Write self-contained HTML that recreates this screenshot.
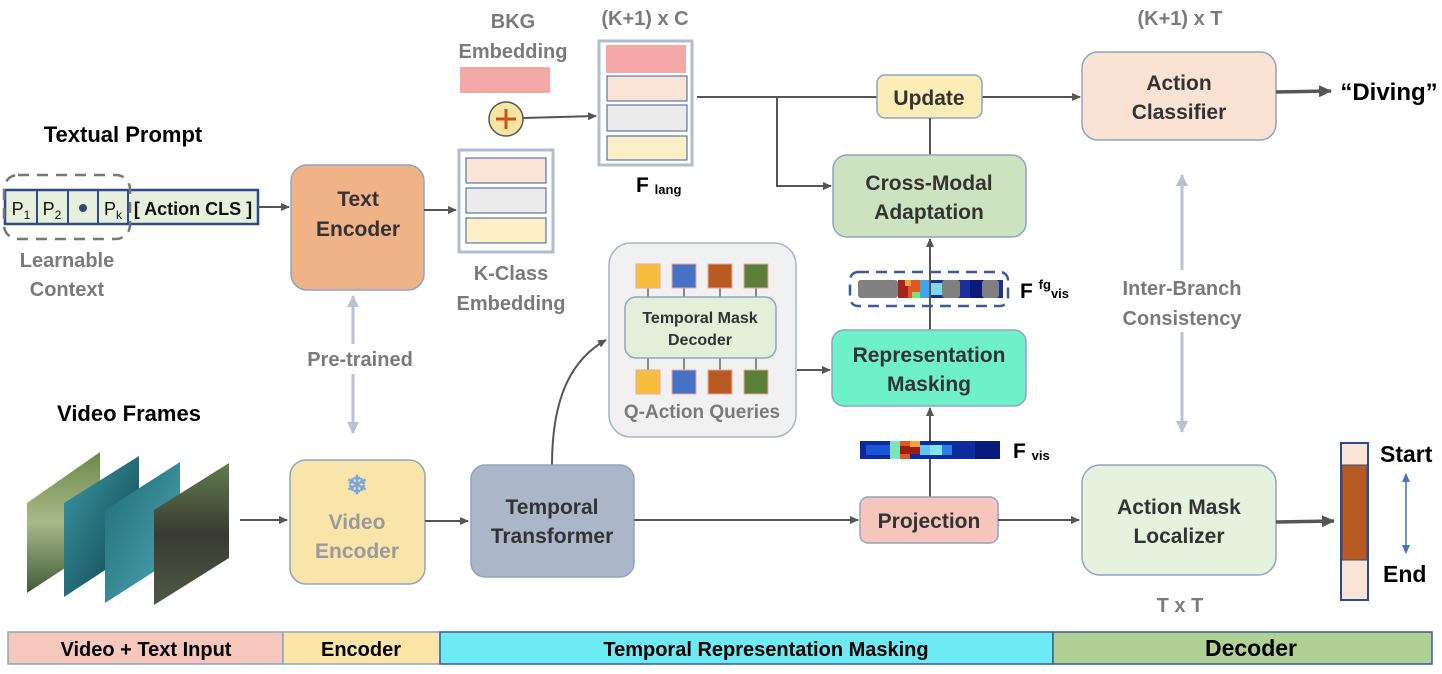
<!DOCTYPE html>
<html><head><meta charset="utf-8"><style>
html,body{margin:0;padding:0;background:#fff;}
svg{display:block;font-family:"Liberation Sans",sans-serif;font-weight:bold;}
</style></head><body>
<svg width="1442" height="674" viewBox="0 0 1442 674" xmlns="http://www.w3.org/2000/svg">
<defs>
<marker id="ah" markerWidth="10" markerHeight="10" refX="8" refY="5" orient="auto" markerUnits="userSpaceOnUse"><path d="M0,1 L9,5 L0,9 z" fill="#555"/></marker>
<marker id="ahb" markerWidth="14" markerHeight="14" refX="12" refY="7" orient="auto" markerUnits="userSpaceOnUse"><path d="M0,1 L13,7 L0,13 z" fill="#555"/></marker>
<marker id="ahg" markerWidth="14" markerHeight="14" refX="11" refY="7" orient="auto-start-reverse" markerUnits="userSpaceOnUse"><path d="M0,1 L12,7 L0,13 z" fill="#b9c2d3"/></marker>
<marker id="ahbl" markerWidth="10" markerHeight="10" refX="8" refY="5" orient="auto-start-reverse" markerUnits="userSpaceOnUse"><path d="M0,1 L9,5 L0,9 z" fill="#4472c4"/></marker>
<linearGradient id="g1" x1="0" y1="0" x2="0" y2="1"><stop offset="0" stop-color="#6b8a4a"/><stop offset="0.5" stop-color="#a9b98a"/><stop offset="1" stop-color="#3f5a3a"/></linearGradient>
<linearGradient id="g2" x1="0" y1="0" x2="1" y2="1"><stop offset="0" stop-color="#3a9aa6"/><stop offset="1" stop-color="#0f3e48"/></linearGradient>
<linearGradient id="g3" x1="0" y1="0" x2="1" y2="1"><stop offset="0" stop-color="#1f6b78"/><stop offset="1" stop-color="#4fa7b3"/></linearGradient>
<linearGradient id="g4" x1="0" y1="0" x2="0" y2="1"><stop offset="0" stop-color="#5f7d4c"/><stop offset="0.5" stop-color="#3a3a33"/><stop offset="1" stop-color="#4d5a44"/></linearGradient>
</defs>

<text x="123" y="142" font-size="22" text-anchor="middle" fill="#000">Textual Prompt</text>
<rect x="5" y="190" width="253" height="34" fill="#e6f0dc" stroke="#2f4a8a" stroke-width="2.5"/>
<g stroke="#2f4a8a" stroke-width="2" fill="none"><line x1="37" y1="190" x2="37" y2="224"/><line x1="68" y1="190" x2="68" y2="224"/><line x1="98" y1="190" x2="98" y2="224"/><line x1="128" y1="190" x2="128" y2="224"/></g>
<text x="21" y="215" font-size="18" font-weight="normal" text-anchor="middle" fill="#111">P<tspan font-size="12" dy="4">1</tspan></text>
<text x="52" y="215" font-size="18" font-weight="normal" text-anchor="middle" fill="#111">P<tspan font-size="12" dy="4">2</tspan></text>
<circle cx="83" cy="208" r="4" fill="#2f4a6a"/>
<text x="113" y="215" font-size="18" font-weight="normal" text-anchor="middle" fill="#111">P<tspan font-size="12" dy="4">k</tspan></text>
<text x="193" y="215" font-size="18" text-anchor="middle" fill="#111">[ Action CLS ]</text>
<rect x="4" y="175" width="126" height="64" rx="14" fill="none" stroke="#777" stroke-width="2.5" stroke-dasharray="11,8"/>
<text x="67" y="267" font-size="20" text-anchor="middle" fill="#7a7a7a">Learnable</text>
<text x="67" y="296" font-size="20" text-anchor="middle" fill="#7a7a7a">Context</text>
<line x1="258" y1="207" x2="289" y2="207" stroke="#555" stroke-width="2" marker-end="url(#ah)"/>

<rect x="291" y="165" width="133" height="125" rx="16" fill="#f0b387" stroke="#8fa3c4" stroke-width="1.5"/>
<text x="358" y="206" font-size="21" text-anchor="middle" fill="#333">Text</text>
<text x="358" y="236" font-size="21" text-anchor="middle" fill="#333">Encoder</text>
<line x1="424" y1="210" x2="456" y2="210" stroke="#555" stroke-width="2" marker-end="url(#ah)"/>

<rect x="459" y="150" width="94" height="102" fill="#fff" stroke="#b0bccf" stroke-width="3"/>
<rect x="466" y="158" width="80" height="25" fill="#f9e4d6" stroke="#3b5b9a" stroke-width="1"/>
<rect x="466" y="188" width="80" height="25" fill="#ebebeb" stroke="#3b5b9a" stroke-width="1"/>
<rect x="466" y="218" width="80" height="25" fill="#fdf0c8" stroke="#3b5b9a" stroke-width="1"/>
<text x="511" y="280" font-size="20" text-anchor="middle" fill="#7a7a7a">K-Class</text>
<text x="511" y="310" font-size="20" text-anchor="middle" fill="#7a7a7a">Embedding</text>

<text x="513" y="28" font-size="20" text-anchor="middle" fill="#7a7a7a">BKG</text>
<text x="513" y="58" font-size="20" text-anchor="middle" fill="#7a7a7a">Embedding</text>
<rect x="460" y="67" width="90" height="26" fill="#f4a9a8"/>
<circle cx="506" cy="119" r="17" fill="#fbe3a3" stroke="#555" stroke-width="1.5"/>
<line x1="496" y1="119" x2="516" y2="119" stroke="#c0581e" stroke-width="3"/>
<line x1="506" y1="109" x2="506" y2="129" stroke="#c0581e" stroke-width="3"/>
<line x1="523" y1="118" x2="596" y2="116" stroke="#555" stroke-width="2" marker-end="url(#ah)"/>

<text x="645" y="25" font-size="20" text-anchor="middle" fill="#7a7a7a">(K+1) x C</text>
<rect x="599" y="41" width="93" height="124" fill="#fff" stroke="#b0bccf" stroke-width="3"/>
<rect x="606" y="45" width="80" height="28" fill="#f4a9a8"/>
<rect x="607" y="76" width="80" height="25" fill="#f9e4d6" stroke="#3b5b9a" stroke-width="1"/>
<rect x="607" y="105" width="80" height="26" fill="#ebebeb" stroke="#3b5b9a" stroke-width="1"/>
<rect x="607" y="136" width="80" height="24" fill="#fdf0c8" stroke="#3b5b9a" stroke-width="1"/>
<text x="636" y="192" font-size="21" fill="#000">F <tspan font-size="13" dy="2">lang</tspan></text>

<line x1="697" y1="97" x2="877" y2="97" stroke="#555" stroke-width="2"/>
<polyline points="777,97 777,186 831,186" fill="none" stroke="#555" stroke-width="2" marker-end="url(#ah)"/>
<line x1="982" y1="97" x2="1080" y2="97" stroke="#555" stroke-width="2" marker-end="url(#ah)"/>

<rect x="877" y="75" width="105" height="43" rx="8" fill="#fdecb5" stroke="#8fa3c4" stroke-width="1.5"/>
<text x="929" y="105" font-size="21" text-anchor="middle" fill="#333">Update</text>
<line x1="930" y1="155" x2="930" y2="118" stroke="#555" stroke-width="2"/>

<rect x="833" y="155" width="193" height="82" rx="14" fill="#cde3bf" stroke="#8fa3c4" stroke-width="1.5"/>
<text x="929" y="190" font-size="21" text-anchor="middle" fill="#333">Cross-Modal</text>
<text x="929" y="219" font-size="21" text-anchor="middle" fill="#333">Adaptation</text>

<line x1="930" y1="330" x2="930" y2="239" stroke="#555" stroke-width="2" marker-end="url(#ah)"/>
<rect x="850" y="272" width="158" height="34" rx="8" fill="#fff" stroke="#3b5b9a" stroke-width="2.5" stroke-dasharray="11,7"/>
<rect x="898" y="280" width="105" height="18" fill="#1a2f9a"/>
<rect x="898" y="280" width="10" height="18" fill="#a32418"/><rect x="908" y="280" width="12" height="18" fill="#e5561f"/>
<rect x="905" y="280" width="6" height="6" fill="#f3a23b"/><rect x="912" y="292" width="8" height="6" fill="#7ce07a"/>
<rect x="920" y="280" width="10" height="18" fill="#3aa7ef"/><rect x="930" y="283" width="14" height="12" fill="#7fd9e8"/>
<rect x="970" y="280" width="25" height="18" fill="#0a1a7a"/>
<rect x="858" y="280" width="40" height="18" rx="3" fill="#808080"/>
<rect x="942" y="280" width="18" height="18" rx="3" fill="#808080"/>
<rect x="982" y="280" width="17" height="18" rx="3" fill="#808080"/>
<line x1="930" y1="272" x2="930" y2="306" stroke="#555" stroke-width="2"/>
<text x="1020" y="298" font-size="21" fill="#000">F <tspan font-size="13" dy="-9">fg</tspan><tspan font-size="13" dy="9">vis</tspan></text>

<rect x="832" y="330" width="194" height="76" rx="12" fill="#6ef1c8" stroke="#8fa3c4" stroke-width="1.5"/>
<text x="929" y="362" font-size="21" text-anchor="middle" fill="#333">Representation</text>
<text x="929" y="391" font-size="21" text-anchor="middle" fill="#333">Masking</text>

<line x1="930" y1="497" x2="930" y2="408" stroke="#555" stroke-width="2" marker-end="url(#ah)"/>
<rect x="860" y="441" width="140" height="18" fill="#0d2a9e"/>
<rect x="866" y="445" width="30" height="10" fill="#1c56d6"/>
<rect x="890" y="441" width="10" height="18" fill="#7fe3b8"/>
<rect x="900" y="441" width="10" height="18" fill="#e5561f"/><rect x="900" y="446" width="20" height="8" fill="#9a1c12"/>
<rect x="910" y="441" width="10" height="6" fill="#f3a23b"/><rect x="920" y="445" width="10" height="10" fill="#5cc6ff"/>
<rect x="930" y="445" width="12" height="10" fill="#7fe8e8"/><rect x="942" y="445" width="10" height="10" fill="#2c7fe8"/>
<rect x="975" y="441" width="25" height="18" fill="#0a1a7a"/>
<text x="1013" y="458" font-size="21" fill="#000">F <tspan font-size="13" dy="2">vis</tspan></text>

<rect x="609" y="243" width="187" height="194" rx="22" fill="#f1f1f1" stroke="#a8b4c8" stroke-width="1.5"/>
<g stroke="#666" stroke-width="1.5"><line x1="648" y1="288" x2="648" y2="370"/><line x1="684" y1="288" x2="684" y2="370"/><line x1="720" y1="288" x2="720" y2="370"/><line x1="756" y1="288" x2="756" y2="370"/></g>
<rect x="625" y="297" width="151" height="61" rx="11" fill="#e3efd9" stroke="#8fa3c4" stroke-width="1.5"/>
<text x="700" y="323" font-size="16" text-anchor="middle" fill="#333">Temporal Mask</text>
<text x="700" y="345" font-size="16" text-anchor="middle" fill="#333">Decoder</text>
<g stroke="#f0a8a0" stroke-width="1">
<rect x="636" y="264" width="24" height="24" fill="#f7bd3e"/><rect x="672" y="264" width="24" height="24" fill="#4472c4"/><rect x="708" y="264" width="24" height="24" fill="#b85a22"/><rect x="744" y="264" width="24" height="24" fill="#5b7f38"/>
<rect x="636" y="370" width="24" height="24" fill="#f7bd3e"/><rect x="672" y="370" width="24" height="24" fill="#4472c4"/><rect x="708" y="370" width="24" height="24" fill="#b85a22"/><rect x="744" y="370" width="24" height="24" fill="#5b7f38"/>
</g>
<text x="702" y="418" font-size="19" text-anchor="middle" fill="#7a7a7a">Q-Action Queries</text>
<line x1="797" y1="370" x2="830" y2="370" stroke="#555" stroke-width="2" marker-end="url(#ah)"/>
<path d="M552,465 C552,400 570,360 606,340" fill="none" stroke="#555" stroke-width="2" marker-end="url(#ah)"/>

<text x="129" y="421" font-size="22" text-anchor="middle" fill="#000">Video Frames</text>
<polygon points="27,503 100,452 100,545 27,593" fill="url(#g1)"/>
<polygon points="64,503 139,456 139,548 64,597" fill="url(#g2)"/>
<polygon points="105,510 180,462 180,555 105,603" fill="url(#g3)"/>
<polygon points="154,510 229,463 229,558 154,605" fill="url(#g4)"/>
<line x1="240" y1="520" x2="287" y2="520" stroke="#555" stroke-width="2" marker-end="url(#ah)"/>

<rect x="290" y="460" width="135" height="124" rx="16" fill="#f9e4a9" stroke="#8fa3c4" stroke-width="1.5"/>
<text x="357" y="494" font-size="26" text-anchor="middle" fill="#7aa7d8">❄</text>
<text x="357" y="529" font-size="21" text-anchor="middle" fill="#9a9a9a">Video</text>
<text x="357" y="558" font-size="21" text-anchor="middle" fill="#9a9a9a">Encoder</text>
<line x1="425" y1="521" x2="468" y2="521" stroke="#555" stroke-width="2" marker-end="url(#ah)"/>

<line x1="353" y1="296" x2="353" y2="433" stroke="#b9c2d3" stroke-width="3" marker-start="url(#ahg)" marker-end="url(#ahg)"/>
<rect x="295" y="344" width="130" height="30" fill="#fff"/>
<text x="360" y="366" font-size="20" text-anchor="middle" fill="#7a7a7a">Pre-trained</text>

<rect x="471" y="465" width="163" height="112" rx="14" fill="#abb7c9" stroke="#8fa3c4" stroke-width="1.5"/>
<text x="552" y="514" font-size="21" text-anchor="middle" fill="#333">Temporal</text>
<text x="552" y="543" font-size="21" text-anchor="middle" fill="#333">Transformer</text>
<line x1="634" y1="520" x2="858" y2="520" stroke="#555" stroke-width="2" marker-end="url(#ah)"/>

<rect x="860" y="497" width="138" height="46" rx="8" fill="#f6c6bc" stroke="#8fa3c4" stroke-width="1.5"/>
<text x="929" y="528" font-size="21" text-anchor="middle" fill="#333">Projection</text>
<line x1="998" y1="520" x2="1079" y2="520" stroke="#555" stroke-width="2" marker-end="url(#ah)"/>

<text x="1180" y="25" font-size="20" text-anchor="middle" fill="#7a7a7a">(K+1) x T</text>
<rect x="1082" y="52" width="194" height="88" rx="16" fill="#fae3d5" stroke="#8fa3c4" stroke-width="1.5"/>
<text x="1179" y="90" font-size="21" text-anchor="middle" fill="#333">Action</text>
<text x="1179" y="119" font-size="21" text-anchor="middle" fill="#333">Classifier</text>
<line x1="1276" y1="92" x2="1331" y2="91" stroke="#555" stroke-width="3.5" marker-end="url(#ahb)"/>
<text x="1389" y="100" font-size="24" text-anchor="middle" fill="#000">“Diving”</text>

<line x1="1182" y1="175" x2="1182" y2="432" stroke="#b9c2d3" stroke-width="3" marker-start="url(#ahg)" marker-end="url(#ahg)"/>
<rect x="1110" y="270" width="145" height="62" fill="#fff"/>
<text x="1182" y="295" font-size="20" text-anchor="middle" fill="#7a7a7a">Inter-Branch</text>
<text x="1182" y="325" font-size="20" text-anchor="middle" fill="#7a7a7a">Consistency</text>

<rect x="1082" y="465" width="194" height="110" rx="18" fill="#e6f1de" stroke="#8fa3c4" stroke-width="1.5"/>
<text x="1179" y="514" font-size="21" text-anchor="middle" fill="#333">Action Mask</text>
<text x="1179" y="543" font-size="21" text-anchor="middle" fill="#333">Localizer</text>
<line x1="1276" y1="522" x2="1334" y2="521" stroke="#555" stroke-width="3.5" marker-end="url(#ahb)"/>
<text x="1180" y="612" font-size="20" text-anchor="middle" fill="#7a7a7a">T x T</text>

<rect x="1341" y="443" width="27" height="157" fill="#fae4d6" stroke="#2f4a8a" stroke-width="2"/>
<rect x="1342" y="465" width="25" height="95" fill="#b85a22" stroke="#2f4a8a" stroke-width="1"/>
<text x="1380" y="462" font-size="23" fill="#000">Start</text>
<text x="1383" y="582" font-size="23" fill="#000">End</text>
<line x1="1406" y1="474" x2="1406" y2="553" stroke="#4472c4" stroke-width="1.5" marker-start="url(#ahbl)" marker-end="url(#ahbl)"/>

<rect x="8" y="632" width="275" height="32" fill="#f6c7bd" stroke="#8fa3c4" stroke-width="1.5"/>
<rect x="283" y="632" width="157" height="32" fill="#fbe6a7" stroke="#8fa3c4" stroke-width="1.5"/>
<rect x="440" y="632" width="613" height="32" fill="#6eeaf4" stroke="#3b5b9a" stroke-width="1.5"/>
<rect x="1053" y="632" width="379" height="32" fill="#b1d093" stroke="#3b5b9a" stroke-width="1.5"/>
<text x="146" y="656" font-size="20" text-anchor="middle" fill="#000">Video + Text Input</text>
<text x="361" y="656" font-size="20" text-anchor="middle" fill="#000">Encoder</text>
<text x="766" y="656" font-size="20" text-anchor="middle" fill="#000">Temporal Representation Masking</text>
<text x="1251" y="656" font-size="23" text-anchor="middle" fill="#000">Decoder</text>
</svg>
</body></html>
